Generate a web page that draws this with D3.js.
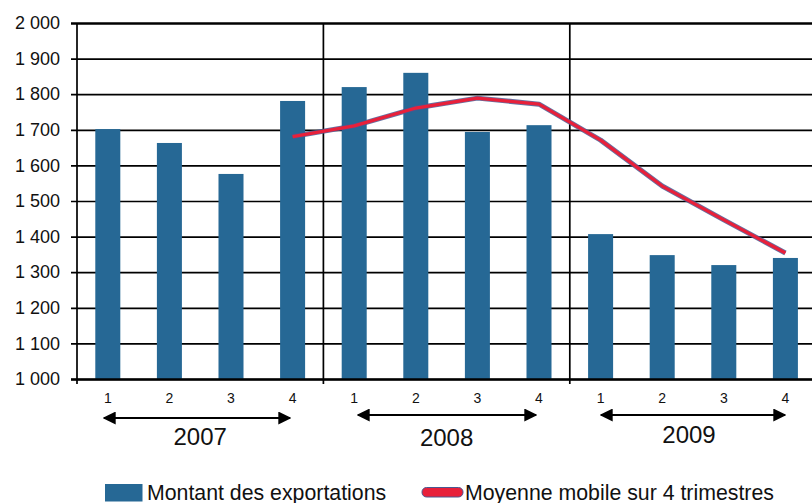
<!DOCTYPE html>
<html>
<head>
<meta charset="utf-8">
<script src="https://cdn.jsdelivr.net/npm/d3@7"></script>
<style>
  html, body { margin: 0; padding: 0; background: #fff; }
  svg { display: block; font-family: "Liberation Sans", Arial, sans-serif; }
</style>
</head>
<body>
<svg id="chart" width="812" height="503"></svg>
<script>
// ---- Data ----
const years = ["2007", "2008", "2009"];
const quarters = ["1", "2", "3", "4"];
const exportValues = [1702, 1663, 1576, 1781, 1820, 1860, 1694, 1713, 1407, 1348, 1320, 1340];
const movingAverage = [null, null, null, 1681, 1711, 1761, 1789, 1772, 1671, 1542, 1447, 1354];
const yTicks = [1000, 1100, 1200, 1300, 1400, 1500, 1600, 1700, 1800, 1900, 2000];
const legendLabels = ["Montant des exportations", "Moyenne mobile sur 4 trimestres"];

(function () {
// ---- Layout ----
const svg = d3.select("#chart");
const mLeft = 77, mRight = 816.2, mTop = 23, mBottom = 379;
const barColor = "#266895";
const lineRed = "#e8203a";
const lineEdge = "#4a5890";

const periods = [];
years.forEach(yv => quarters.forEach(q => periods.push(yv + "-" + q)));

const x = d3.scaleBand().domain(periods).range([mLeft, mRight])
  .paddingInner(0.594).paddingOuter(0.297);
const step = x.step();
const xc = i => x(periods[i]) + x.bandwidth() / 2;
const y = d3.scaleLinear().domain([1000, 2000]).range([mBottom, mTop]);

const fmt = v => d3.format(",")(v).replace(",", " ");

// Grid lines (horizontal) + y labels
const yAxis = d3.axisLeft(y).tickValues(yTicks).tickFormat(fmt)
  .tickSize(6).tickPadding(11);
const gy = svg.append("g").attr("transform", `translate(${mLeft},0)`).call(yAxis);
gy.select(".domain").remove();
gy.selectAll(".tick line")
  .attr("x1", -6).attr("x2", mRight - mLeft)
  .attr("stroke", "#000").attr("stroke-width", d => d === 2000 ? 2.4 : 1.7);
gy.selectAll(".tick text")
  .attr("x", -17)
  .attr("fill", "#111").style("font-size", "18px")
  .style("font-family", "'Liberation Sans', Arial, sans-serif");

// Bars
svg.append("g").selectAll("rect").data(exportValues).join("rect")
  .attr("x", (d, i) => x(periods[i]))
  .attr("width", x.bandwidth())
  .attr("y", d => y(d))
  .attr("height", d => y(1000) - y(d))
  .attr("fill", barColor);

// Vertical lines: y axis and year separators
const sepX = [0, 4, 8].map(i => mLeft + i * step);
svg.append("g").selectAll("line").data(sepX).join("line")
  .attr("x1", d => d).attr("x2", d => d)
  .attr("y1", mTop).attr("y2", mBottom + 5)
  .attr("stroke", "#000").attr("stroke-width", 1.7);

// Bottom axis line
svg.append("line").attr("x1", mLeft - 6).attr("x2", mRight)
  .attr("y1", mBottom + 0.5).attr("y2", mBottom + 0.5)
  .attr("stroke", "#000").attr("stroke-width", 2.6);

// Moving average line
const maData = movingAverage.map((d, i) => ({ v: d, i }));
const lg = d3.line().defined(d => d.v != null).x(d => xc(d.i)).y(d => y(d.v));
svg.append("path").datum(maData).attr("d", lg)
  .attr("fill", "none").attr("stroke", lineEdge).attr("stroke-width", 5)
  .attr("stroke-linejoin", "round").attr("opacity", 0.85);
svg.append("path").datum(maData).attr("d", lg)
  .attr("fill", "none").attr("stroke", lineRed).attr("stroke-width", 3.2)
  .attr("stroke-linejoin", "round");

// Quarter labels
svg.append("g").selectAll("text").data(periods).join("text")
  .attr("x", (d, i) => xc(i))
  .attr("y", 403)
  .attr("text-anchor", "middle")
  .style("font-size", "14px").attr("fill", "#111")
  .text(d => d.split("-")[1]);

// Year arrows & labels
const arrowY = [418, 415, 415];
const yearLabelY = [445, 446, 443];
const defs = svg.append("defs");
defs.append("marker").attr("id", "ah").attr("viewBox", "0 0 10 10")
  .attr("refX", 9).attr("refY", 5).attr("markerWidth", 6.5).attr("markerHeight", 6.5)
  .attr("markerUnits", "strokeWidth").attr("orient", "auto-start-reverse")
  .append("path").attr("d", "M0,0 L10,5 L0,10 Z").attr("fill", "#000");

const arrowX = [[104, 290], [358, 536], [601, 785]];
years.forEach((yr, k) => {
  const x1 = xc(k * 4) - (xc(k * 4) - arrowX[k][0]);
  const x2 = arrowX[k][1];
  svg.append("line")
    .attr("x1", x1).attr("x2", x2).attr("y1", arrowY[k]).attr("y2", arrowY[k])
    .attr("stroke", "#000").attr("stroke-width", 2)
    .attr("marker-start", "url(#ah)").attr("marker-end", "url(#ah)");
  svg.append("text")
    .attr("x", (xc(k * 4) + xc(k * 4 + 3)) / 2 + (k === 2 ? -4 : 0))
    .attr("y", yearLabelY[k])
    .attr("text-anchor", "middle")
    .style("font-size", "24px").attr("fill", "#111")
    .text(yr);
});

// Legend
svg.append("rect").attr("x", 105).attr("y", 484).attr("width", 37.5).attr("height", 17.5)
  .attr("fill", barColor);
svg.append("text").attr("x", 147).attr("y", 499.5)
  .style("font-size", "21.3px").attr("fill", "#111").text(legendLabels[0]);
svg.append("rect").attr("x", 422).attr("y", 487.5).attr("width", 41).attr("height", 9.5)
  .attr("rx", 4.5).attr("fill", lineRed).attr("stroke", lineEdge).attr("stroke-width", 1);
svg.append("text").attr("x", 465).attr("y", 499.5)
  .style("font-size", "21.3px").attr("fill", "#111").text(legendLabels[1]);
})();
</script>
</body>
</html>
